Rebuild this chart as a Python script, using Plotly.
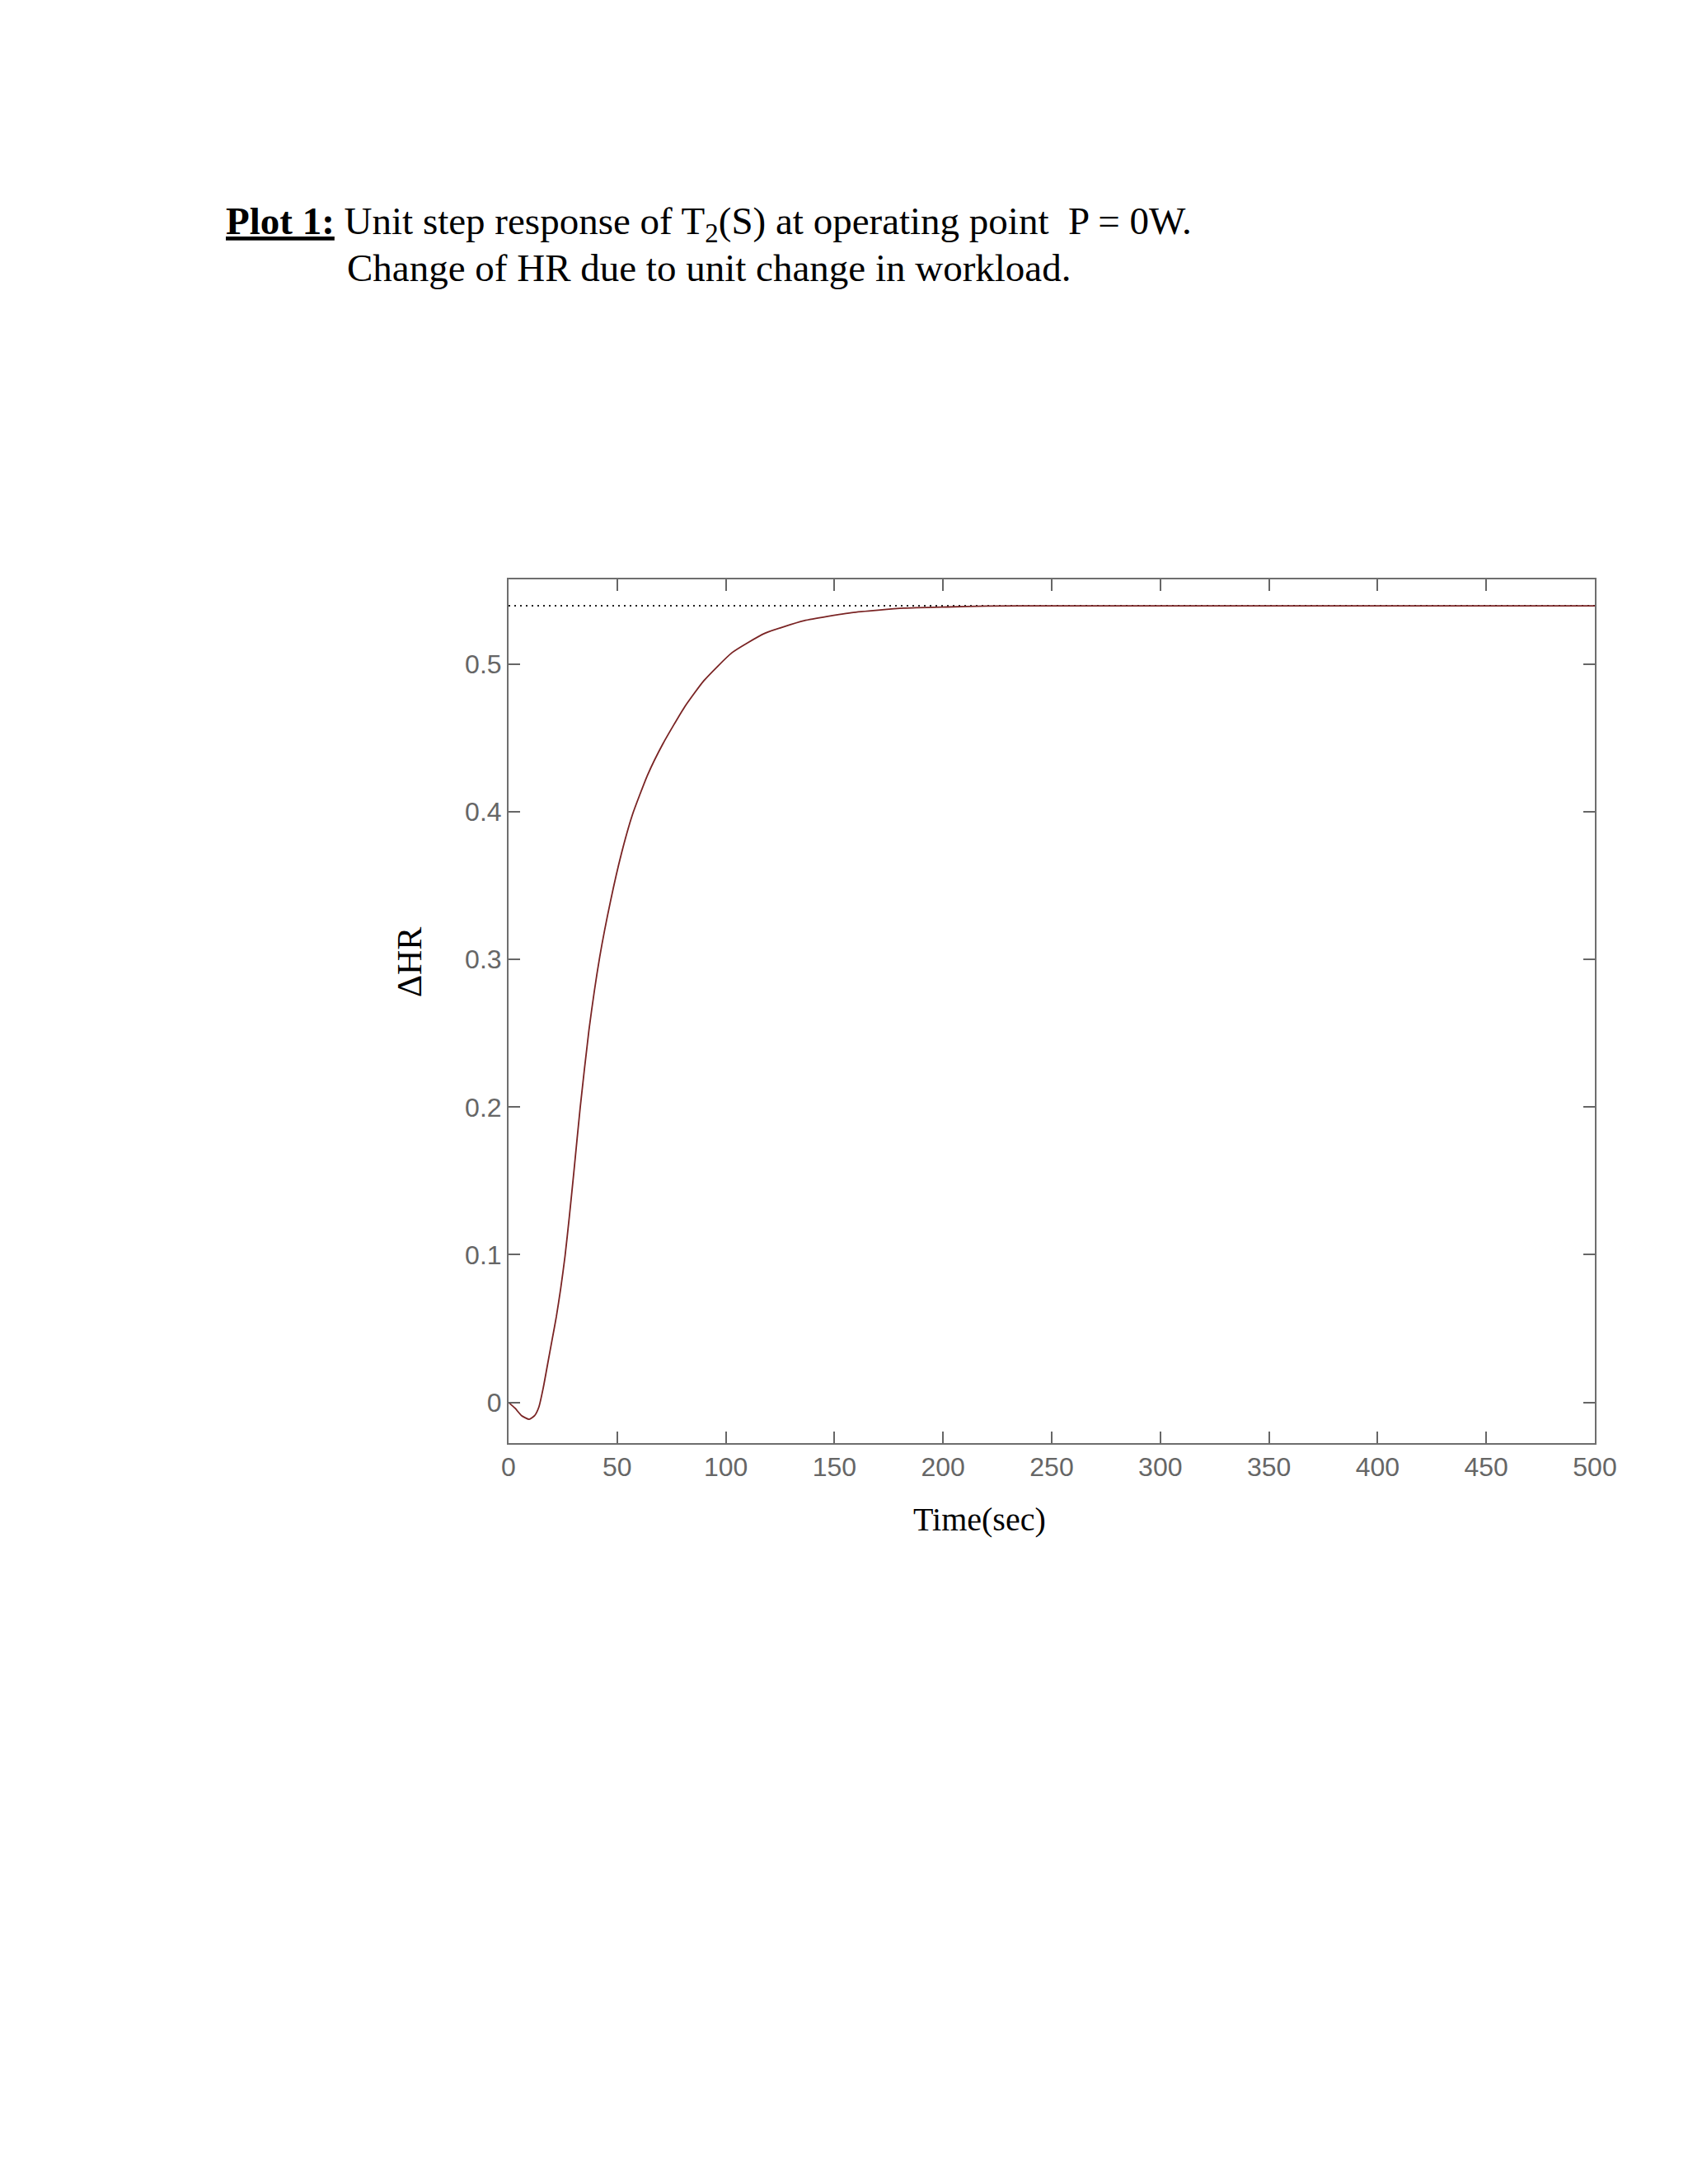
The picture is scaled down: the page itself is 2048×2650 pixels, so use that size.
import plotly.graph_objects as go

# Data
time_s = [0, 3, 6, 9.5, 12, 14, 16, 18, 20, 22, 24, 26, 28, 30, 33, 37, 42, 47, 52, 57,
          64, 71, 81, 90, 103, 118, 136, 158, 182, 202, 220, 250, 300, 400, 500]
delta_hr = [0, -0.004, -0.009, -0.0115, -0.009, -0.003, 0.010, 0.026, 0.042, 0.058,
            0.077, 0.099, 0.126, 0.155, 0.200, 0.252, 0.302, 0.340, 0.372, 0.398,
            0.425, 0.446, 0.471, 0.489, 0.508, 0.521, 0.5295, 0.535, 0.538, 0.5388,
            0.5394, 0.5396, 0.5396, 0.5396, 0.5396]
steady_x = [0, 500]
steady_y = [0.5396, 0.5396]
x_ticks = [0, 50, 100, 150, 200, 250, 300, 350, 400, 450, 500]
y_ticks = [0, 0.1, 0.2, 0.3, 0.4, 0.5]
y_tick_labels = ["0", "0.1", "0.2", "0.3", "0.4", "0.5"]

OFF = 8  # browser body margin
W, H = 2048 - OFF, 2650 - OFF
L, R, T, B = 617 - OFF, 1935 - OFF, 703 - OFF, 1751 - OFF

fig = go.Figure()
fig.add_trace(go.Scatter(x=steady_x, y=steady_y, mode="lines",
                         line=dict(color="#222222", width=2, dash="2px,5px"),
                         hoverinfo="skip", showlegend=False))
fig.add_trace(go.Scatter(x=time_s, y=delta_hr, mode="lines",
                         line=dict(color="#7a2424", width=1.8, shape="spline", smoothing=0.5),
                         showlegend=False))

tick_font = dict(family="Liberation Sans, Arial", size=32, color="#666666")
fig.update_xaxes(range=[0, 500], tickvals=x_ticks, ticktext=[str(v) for v in x_ticks],
                 ticks="inside", ticklen=14, tickwidth=2, tickcolor="#666666",
                 showline=True, linecolor="#6e6e6e", linewidth=2, mirror="ticks",
                 showgrid=False, zeroline=False, tickfont=tick_font)
fig.update_yaxes(range=[-0.0276, 0.5575], tickvals=y_ticks, ticktext=y_tick_labels,
                 ticks="inside", ticklen=14, tickwidth=2, tickcolor="#666666",
                 showline=True, linecolor="#6e6e6e", linewidth=2, mirror="ticks",
                 showgrid=False, zeroline=False, tickfont=tick_font)

def px(xp):
    return (xp - OFF - L) / (R - L)

def py(yp):
    return (B - (yp - OFF)) / (B - T)

serif = "Liberation Serif, Times New Roman, serif"
annotations = [
    dict(text="<b><u>Plot 1:</u></b> Unit step response of T<sub>2</sub>(S) at operating point  P = 0W.",
         x=px(272), y=py(272), xref="paper", yref="paper", xanchor="left", yanchor="middle",
         showarrow=False, font=dict(family=serif, size=47, color="black")),
    dict(text="Change of HR due to unit change in workload.",
         x=px(419), y=py(325), xref="paper", yref="paper", xanchor="left", yanchor="middle",
         showarrow=False, font=dict(family=serif, size=47, color="black")),
    dict(text="ΔHR", x=px(497), y=py(1168), xref="paper", yref="paper",
         xanchor="center", yanchor="middle", textangle=-90, showarrow=False,
         font=dict(family=serif, size=42, color="black")),
    dict(text="Time(sec)", x=px(1188), y=py(1843), xref="paper", yref="paper",
         xanchor="center", yanchor="middle", showarrow=False,
         font=dict(family=serif, size=40, color="black")),
]

fig.update_layout(width=W, height=H, margin=dict(l=L, r=W - R, t=T, b=H - B, pad=0),
                  paper_bgcolor="white", plot_bgcolor="white", annotations=annotations,
                  showlegend=False)

fig.write_html("out.html")
